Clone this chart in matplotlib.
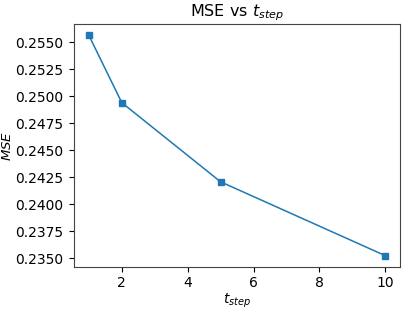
import matplotlib
matplotlib.use("Agg")
import matplotlib.pyplot as plt

t_step = [1, 2, 5, 10]
mse = [0.25565, 0.24941, 0.24207, 0.23522]

fig = plt.figure(figsize=(4.07, 3.13), dpi=100)
ax = fig.add_axes([0.182, 0.148, 0.801, 0.774])
ax.plot(t_step, mse, marker='s', markersize=4.5, color='#1f77b4', linewidth=1.1)
ax.set_title('MSE vs $t_{step}$', fontsize=11.5)
ax.set_xlabel('$t_{step}$', fontsize=10, labelpad=1)
ax.set_ylabel('$MSE$', fontsize=9.5)
ax.yaxis.set_label_coords(-0.185, 0.5)
ax.tick_params(labelsize=10)
ax.tick_params(axis='y', pad=4.5)
ax.set_xticks([2, 4, 6, 8, 10])
ax.set_yticks([0.2350, 0.2375, 0.2400, 0.2425, 0.2450, 0.2475, 0.2500, 0.2525, 0.2550])
ax.yaxis.set_major_formatter(matplotlib.ticker.FormatStrFormatter('%.4f'))
for s in ax.spines.values():
    s.set_color('#444444')
fig.savefig('out.png', dpi=100)
